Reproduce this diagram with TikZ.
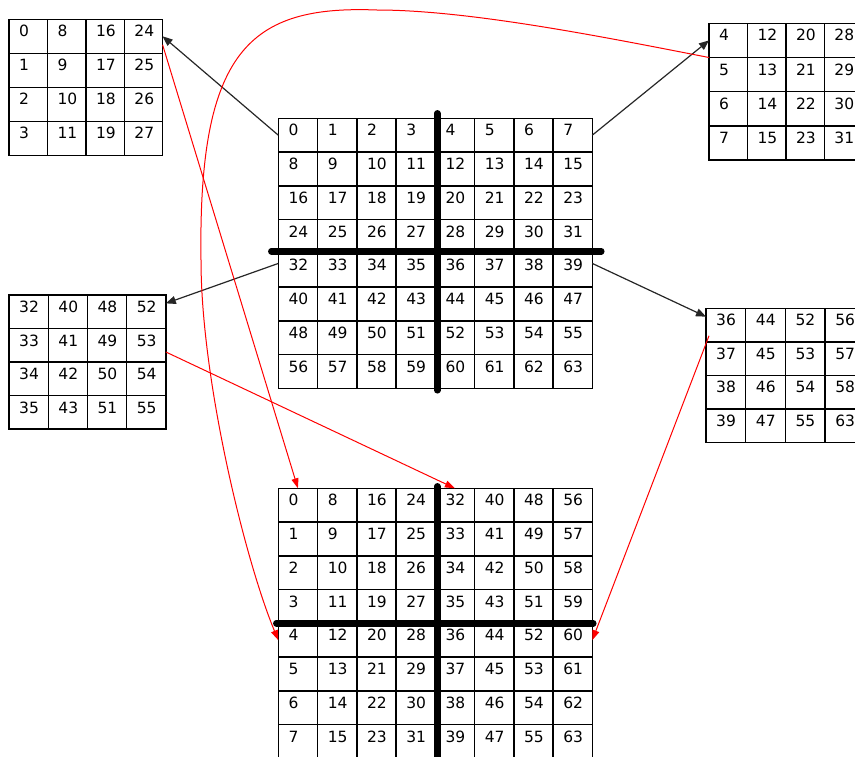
\documentclass[tikz,border=0pt]{standalone}
\usepackage{fontspec}
\setmainfont{DejaVu Sans}
\usetikzlibrary{arrows.meta,calc}
\definecolor{linkred}{HTML}{FF0000}
\definecolor{linkgray}{HTML}{262626}

\begin{document}
\begin{tikzpicture}[x=1pt,y=-1pt,
 cell/.style={draw,line width=1.4pt,anchor=north west,inner sep=0pt,outer sep=0pt},
 num/.style={anchor=base west,inner sep=0pt,xshift=10pt,yshift=-17.5pt,font=\fontsize{15.5}{15.5}\selectfont},
 split/.style={line width=6.5pt,line cap=round},
 move/.style={-{Triangle[length=10pt,width=8pt]},line width=1.2pt,draw=linkgray},
 swap/.style={-{Triangle[length=10pt,width=7pt]},line width=1pt,draw=linkred}
]
\useasboundingbox (0,0) rectangle (855,756);
\clip (0,0) rectangle (855,756);

% big blocks
\foreach \r in {0,...,7}
 \foreach \c in {0,...,7} {
  \pgfmathtruncatemacro\n{8*\r+\c}
  \node[cell,minimum width=39.25pt,minimum height=33.75pt,label={[num]north west:\n}] (mid-\r-\c) at (278.3+39.25*\c,118.3+33.75*\r) {};
  \pgfmathtruncatemacro\n{\r+8*\c}
  \node[cell,minimum width=39.25pt,minimum height=33.75pt,label={[num]north west:\n}] (bot-\r-\c) at (278.3+39.25*\c,488.3+33.75*\r) {};
 }

% quarter blocks
\foreach \row [count=\r from 0] in {{0,8,16,24},{1,9,17,25},{2,10,18,26},{3,11,19,27}}
 \foreach \n [count=\c from 0] in \row
  \node[cell,minimum width=38.4pt,minimum height=34pt,label={[num]north west:\n}] (tl-\r-\c) at (9+38.4*\c,19.3+34*\r) {};
\foreach \row [count=\r from 0] in {{4,12,20,28},{5,13,21,29},{6,14,22,30},{7,15,23,31}}
 \foreach \n [count=\c from 0] in \row
  \node[cell,minimum width=38.4pt,minimum height=34.2pt,label={[num]north west:\n}] (tr-\r-\c) at (709+38.4*\c,23.3+34.2*\r) {};
\foreach \row [count=\r from 0] in {{32,40,48,52},{33,41,49,53},{34,42,50,54},{35,43,51,55}}
 \foreach \n [count=\c from 0] in \row
  \node[cell,minimum width=39.2pt,minimum height=33.5pt,label={[num]north west:\n}] (ml-\r-\c) at (9+39.2*\c,295+33.5*\r) {};
\foreach \row [count=\r from 0] in {{36,44,52,56},{37,45,53,57},{38,46,54,58},{39,47,55,63}}
 \foreach \n [count=\c from 0] in \row
  \node[cell,minimum width=39.7pt,minimum height=33.5pt,label={[num]north west:\n}] (mr-\r-\c) at (706+39.7*\c,308.3+33.5*\r) {};

\draw[split] ($(mid-0-4.north west)+(2,-5)$) -- ($(mid-7-4.south west)+(2,2)$);
\draw[split] ($(mid-4-0.north west)+(-7,-2)$) -- ($(mid-4-7.north east)+(9,-2)$);
\draw[split] ($(bot-0-4.north west)+(2,-2)$) -- ($(bot-7-4.south west)+(2,0)$);
\draw[split] ($(bot-4-0.north west)+(-2,0)$) -- ($(bot-4-7.north east)+(1,0)$);

\draw[move] (mid-0-0.west) -- (tl-0-3.east);
\draw[move] (mid-0-7.east) -- (tr-0-0.west);
\draw[move] ($(mid-4-0.north west)!0.3!(mid-4-0.south west)$) -- ($(ml-0-3.north east)!0.25!(ml-0-3.south east)$);
\draw[move] ($(mid-4-7.north east)!0.3!(mid-4-7.south east)$) -- ($(mr-0-0.north west)!0.25!(mr-0-0.south west)$);

\coordinate (arctop) at (377,10);
\coordinate (arcleft) at (201,260);
\draw[swap] ($(tl-0-3.south east)!0.25!(tl-0-3.north east)$) -- (bot-0-0.north);
\draw[swap] ($(ml-1-3.south east)!0.3!(ml-1-3.north east)$) -- (bot-0-4.north);
\draw[swap] ($(mr-0-0.south west)+(3,-6)$) -- (bot-4-7.east);
\draw[swap] (tr-1-0.north west) .. controls (609,38) and (470,10) .. (arctop)
 .. controls (250,5) and (198,50) .. (arcleft)
 .. controls (201,380) and (245,560) .. (bot-4-0.west);
\end{tikzpicture}
\end{document}
